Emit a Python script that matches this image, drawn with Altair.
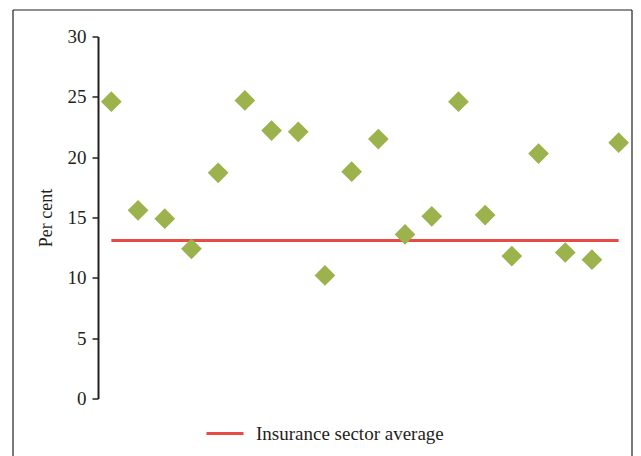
import altair as alt
import pandas as pd

# Companies in display order (x positions), their ratio in per cent
positions = list(range(1, 21))
ratios = [24.6, 15.6, 14.9, 12.4, 18.7, 24.7, 22.2, 22.1, 10.2, 18.8,
          21.5, 13.6, 15.1, 24.6, 15.2, 11.8, 20.3, 12.1, 11.5, 21.2]

# Sector benchmark drawn as a horizontal reference line
sector_average = 13.1
average_label = "Insurance sector average"

y_ticks = [0, 5, 10, 15, 20, 25, 30]

points_df = pd.DataFrame({"pos": positions, "ratio": ratios})
avg_df = pd.DataFrame({
    "pos": [positions[0], positions[-1]],
    "ratio": [sector_average, sector_average],
    "series": [average_label, average_label],
})

FONT = "Liberation Serif"
INK = "#231f20"
GREEN = "#9bb24d"
RED = "#e84a45"

W, H = 534, 362

x_scale = alt.Scale(domain=[0.5, len(positions) + 0.5], nice=False, zero=False)
y_scale = alt.Scale(domain=[0, 30], nice=False)

y_axis = alt.Axis(
    values=y_ticks,
    title="Per cent",
    grid=False,
    domainColor=INK,
    domainWidth=2,
    tickColor=INK,
    tickWidth=1.5,
    tickSize=6,
    labelPadding=6,
    labelFont=FONT,
    labelFontSize=19,
    labelColor=INK,
    titleFont=FONT,
    titleFontSize=18,
    titleFontWeight="normal",
    titleColor=INK,
    titlePadding=12,
)

points = alt.Chart(points_df).mark_point(
    shape="diamond", filled=True, size=430, color=GREEN, opacity=1
).encode(
    x=alt.X("pos:Q", scale=x_scale, axis=None),
    y=alt.Y("ratio:Q", scale=y_scale, axis=y_axis),
)

average = alt.Chart(avg_df).mark_line(strokeWidth=3).encode(
    x=alt.X("pos:Q", scale=x_scale, axis=None),
    y=alt.Y("ratio:Q", scale=y_scale),
    color=alt.Color(
        "series:N",
        scale=alt.Scale(domain=[average_label], range=[RED]),
        legend=alt.Legend(
            title=None,
            orient="none",
            legendX=107,
            legendY=377,
            symbolType="stroke",
            symbolSize=1369,
            symbolStrokeWidth=3,
            labelFont=FONT,
            labelFontSize=19,
            labelColor=INK,
            labelOffset=11,
            labelLimit=0,
            padding=0,
        ),
    ),
)

# Outer frame around the figure
frame_df = pd.DataFrame({"k": [0]})
frame_top = alt.Chart(frame_df).mark_rule(color=INK, strokeWidth=1.2).encode(
    x=alt.value(-85), x2=alt.value(W), y=alt.value(-26.5)
)
frame_left = alt.Chart(frame_df).mark_rule(color=INK, strokeWidth=1.2).encode(
    x=alt.value(-85), y=alt.value(-26.5), y2=alt.value(H + 80)
)
frame_right = alt.Chart(frame_df).mark_rule(color=INK, strokeWidth=1.2).encode(
    x=alt.value(W), y=alt.value(-26.5), y2=alt.value(H + 80)
)

chart = alt.layer(average, points, frame_top, frame_left, frame_right).properties(
    width=W,
    height=H,
    autosize=alt.AutoSizeParams(type="none"),
    padding={"left": 98, "top": 36.5, "right": 9, "bottom": 57.5},
    background="white",
).configure_view(stroke=None)

chart.save("out.html", embed_options={"renderer": "svg", "actions": False})
